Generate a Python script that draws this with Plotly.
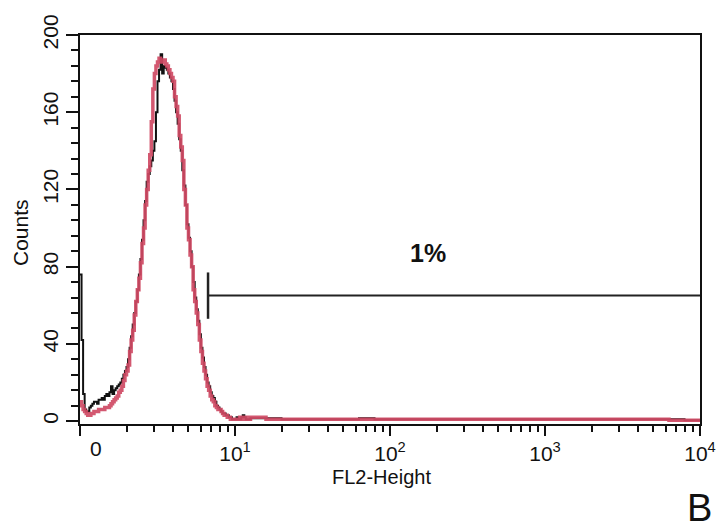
import numpy as np
import plotly.graph_objects as go

# ---------------- data ----------------
# fine channels: log10(FL2) from 0.00 to 1.10 in 0.01-decade channels
fine_log_start = 0.0
fine_log_step = 0.01
red_fine = [10, 8, 6, 5, 4, 3, 3, 4, 4, 5,
            5, 5, 6, 6, 6, 6, 7, 7, 7, 8,
            9, 10, 11, 12, 13, 15, 16, 18, 21, 24,
            26, 29, 36, 42, 47, 55, 62, 68, 74, 82,
            92, 100, 112, 120, 130, 138, 155, 172, 180, 184,
            186, 188, 187, 186, 187, 185, 184, 182, 180, 178,
            176, 168, 163, 158, 148, 142, 135, 120, 112, 100,
            94, 86, 80, 68, 62, 56, 50, 42, 36, 30,
            26, 22, 18, 16, 13, 11, 10, 8, 7, 6,
            6, 5, 4, 3, 3, 2, 2, 1, 1, 1,
            1, 1, 1, 2, 2, 1, 1, 2, 2, 1]
black_fine = [76, 42, 14, 6, 5, 5, 7, 8, 9, 10,
              10, 9, 11, 11, 12, 11, 13, 14, 13, 15,
              18, 14, 16, 17, 18, 19, 20, 22, 24, 26,
              28, 32, 38, 44, 50, 56, 62, 68, 76, 84,
              94, 104, 114, 124, 128, 132, 135, 140, 145, 160,
              176, 182, 190, 180, 184, 183, 182, 180, 178, 176,
              172, 166, 160, 154, 146, 140, 130, 122, 112, 102,
              95, 88, 80, 72, 64, 58, 52, 45, 38, 33,
              28, 24, 20, 18, 15, 13, 12, 10, 8, 7,
              6, 5, 4, 4, 3, 3, 2, 2, 1, 1,
              1, 2, 1, 1, 2, 3, 2, 1, 1, 1]
# tail channels: log10(FL2) from 1.10 to 4.00 in 0.1-decade channels
tail_log_start = 1.1
tail_log_step = 0.1
red_tail = [2, 1, 1, 1, 1, 1, 1, 1, 1, 1,
            1, 1, 1, 1, 1, 1, 1, 1, 1, 1,
            1, 1, 1, 1, 1, 1, 1, 0.5, 0.5]
black_tail = [1.5, 1.5, 1, 1, 1, 1, 1, 1.5, 1, 1,
              1, 1, 1, 1, 1, 1, 1, 1, 1, 1,
              1, 1, 1, 1, 1, 1, 1, 1, 0.5]

gate_start = 6.7      # FL2 value where the marker starts
gate_end = 10000
gate_level = 65       # counts
gate_half_height = 12
gate_label = "1%"
gate_label_fl2 = 175  # FL2 value where the label is centred

x_tick_vals = [1, 10, 100, 1000, 10000]
x_tick_text = ["", "10<sup>1</sup>", "10<sup>2</sup>", "10<sup>3</sup>", "10<sup>4</sup>"]
y_tick_vals = [0, 40, 80, 120, 160, 200]

# ---------------- build step histograms ----------------
def edges(start, step, n):
    return start + step * np.arange(n + 1)

fine_edges = edges(fine_log_start, fine_log_step, len(red_fine))
tail_edges = edges(tail_log_start, tail_log_step, len(red_tail))
log_left = np.concatenate([fine_edges[:-1], tail_edges[:-1], [tail_edges[-1]]])
x_steps = 10 ** log_left

def step_y(fine, tail):
    vals = list(fine) + list(tail)
    return vals + [vals[-1]]

FONT = "Arial, Liberation Sans, Helvetica, sans-serif"
RED = "rgb(208,74,100)"
INK = "#111111"

fig = go.Figure()
fig.add_trace(go.Scatter(x=x_steps, y=step_y(black_fine, black_tail), mode="lines",
                         line=dict(color=INK, width=2, shape="hv"),
                         showlegend=False, hoverinfo="skip"))
fig.add_trace(go.Scatter(x=x_steps, y=step_y(red_fine, red_tail), mode="lines",
                         line=dict(color=RED, width=3.5, shape="hv"),
                         opacity=0.92, showlegend=False, hoverinfo="skip"))
# gate marker
fig.add_trace(go.Scatter(x=[gate_start, gate_end], y=[gate_level, gate_level], mode="lines",
                         line=dict(color="#222222", width=2), showlegend=False, hoverinfo="skip"))
fig.add_trace(go.Scatter(x=[gate_start, gate_start],
                         y=[gate_level - gate_half_height, gate_level + gate_half_height],
                         mode="lines", line=dict(color="#222222", width=2.5),
                         showlegend=False, hoverinfo="skip"))

minor_x = [m * 10 ** d for d in range(4) for m in range(2, 10)]
minor_y = [v for v in range(0, 201, 8) if v % 40 != 0]

# page body has an 8px margin: figure is 716x523 so plot sits at 80..700 x 35..424
fig.update_layout(
    width=716, height=523,
    margin=dict(l=72, r=24, t=27, b=107),
    paper_bgcolor="white", plot_bgcolor="white",
    font=dict(family=FONT, color=INK, size=21),
    xaxis=dict(type="log", range=[0, 4], tickmode="array", tickvals=x_tick_vals,
               ticktext=x_tick_text, ticks="outside", ticklen=10, tickwidth=2,
               tickcolor=INK, showline=True, linecolor=INK, linewidth=2,
               mirror=True, showgrid=False, zeroline=False, automargin=False,
               tickfont=dict(size=21, family=FONT, color=INK),
               minor=dict(tickmode="array", tickvals=minor_x, ticks="outside",
                          ticklen=6, tickwidth=2, tickcolor=INK, showgrid=False)),
    yaxis=dict(range=[-1.5, 200], tickmode="array", tickvals=y_tick_vals,
               ticks="outside", ticklen=12, tickwidth=2, tickcolor=INK,
               showline=True, linecolor=INK, linewidth=2, mirror=True,
               showgrid=False, zeroline=False, tickangle=-90, automargin=False,
               tickfont=dict(size=21, family=FONT, color=INK),
               minor=dict(tickmode="array", tickvals=minor_y, ticks="outside",
                          ticklen=7, tickwidth=2, tickcolor=INK, showgrid=False)),
)

def px(xp):
    return (xp - 80) / 620

def py(yp):
    return (424 - yp) / 389

fig.add_annotation(x=0.1, y=0, xref="x", yref="paper", text="0", showarrow=False,
                   xanchor="center", yanchor="top", yshift=-11,
                   font=dict(size=21, family=FONT, color=INK))
fig.add_annotation(x=np.log10(gate_label_fl2), y=gate_level + 22, xref="x", yref="y",
                   text="<b>" + gate_label + "</b>",
                   showarrow=False, xanchor="center", yanchor="middle",
                   font=dict(size=25, family=FONT, color=INK))
fig.add_annotation(x=px(381), y=py(477), xref="paper", yref="paper",
                   text="FL2-Height", showarrow=False, xanchor="center", yanchor="middle",
                   font=dict(size=20, family=FONT, color=INK))
fig.add_annotation(x=px(21), y=py(233), xref="paper", yref="paper",
                   text="Counts", showarrow=False, textangle=-90,
                   xanchor="center", yanchor="middle",
                   font=dict(size=21, family=FONT, color=INK))
fig.add_annotation(x=px(699), y=py(508), xref="paper", yref="paper",
                   text="B", showarrow=False, xanchor="center", yanchor="middle",
                   font=dict(size=38, family=FONT, color=INK))

fig.write_html("out.html")
